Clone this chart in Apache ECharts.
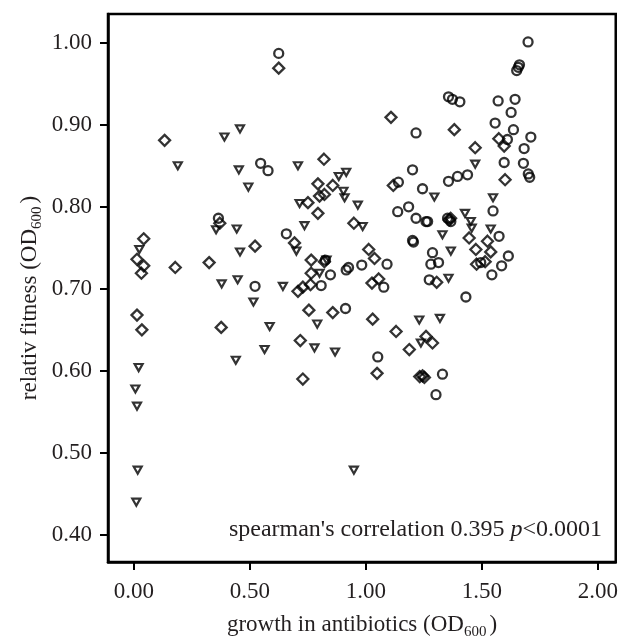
<!DOCTYPE html>
<html>
<head>
<meta charset="utf-8">
<script src="https://cdn.jsdelivr.net/npm/echarts@6/dist/echarts.min.js"></script>
<style>
html,body{margin:0;padding:0;background:#fff;}
#chart{width:621px;height:636px;}
</style>
</head>
<body>
<div id="chart"></div>
<script>
// ---- data (growth in antibiotics OD600, relative fitness) ----
var circles = [
[0.546,0.853],[0.578,0.844],[0.364,0.786],[0.522,0.703],[0.624,0.987],[1.216,0.890],[1.201,0.845],
[1.140,0.830],[1.244,0.822],[0.657,0.767],[0.847,0.717],[0.915,0.723],[0.925,0.726],[0.982,0.729],
[1.091,0.730],[1.077,0.702],[0.807,0.704],[0.912,0.676],[1.051,0.617],[1.201,0.759],[1.205,0.757],
[1.137,0.794],[1.184,0.800],[1.216,0.786],[1.259,0.782],[1.699,1.001],[1.650,0.966],[1.657,0.970],
[1.662,0.973],[1.356,0.934],[1.373,0.931],[1.405,0.928],[1.570,0.929],[1.643,0.931],[1.626,0.915],
[1.557,0.902],[1.636,0.894],[1.711,0.885],[1.610,0.882],[1.682,0.871],[1.596,0.854],[1.679,0.853],
[1.700,0.840],[1.706,0.836],[1.356,0.831],[1.395,0.837],[1.438,0.839],[1.548,0.795],[1.266,0.782],
[1.352,0.786],[1.366,0.782],[1.574,0.764],[1.287,0.744],[1.614,0.740],[1.280,0.730],[1.313,0.732],
[1.495,0.732],[1.585,0.728],[1.543,0.717],[1.273,0.711],[1.431,0.690],[1.330,0.596],[1.302,0.571],
[0.825,0.735]
];
var diamonds = [
[0.132,0.881],[0.370,0.780],[0.042,0.761],[0.013,0.736],[0.042,0.728],[0.032,0.719],[0.178,0.726],
[0.324,0.732],[0.522,0.752],[0.013,0.668],[0.034,0.650],[0.376,0.653],[0.624,0.969],[1.108,0.909],
[0.819,0.858],[1.118,0.826],[0.793,0.828],[0.857,0.826],[0.821,0.815],[0.800,0.813],[0.750,0.805],
[0.793,0.792],[0.948,0.780],[0.692,0.756],[0.764,0.735],[0.821,0.733],[0.764,0.719],[1.012,0.748],
[1.037,0.737],[1.026,0.707],[1.055,0.712],[0.707,0.697],[0.728,0.702],[0.761,0.705],[0.754,0.674],
[0.857,0.671],[1.029,0.663],[0.717,0.637],[1.130,0.648],[1.187,0.626],[1.259,0.642],[1.287,0.634],
[0.728,0.590],[1.048,0.597],[1.232,0.593],[1.244,0.594],[1.252,0.592],[1.381,0.894],[1.573,0.883],
[1.596,0.874],[1.471,0.872],[1.600,0.833],[1.359,0.784],[1.445,0.762],[1.524,0.758],[1.474,0.748],
[1.538,0.745],[1.477,0.730],[1.514,0.733],[1.305,0.708],[1.365,0.786]
];
var triangles = [
[0.189,0.850],[0.390,0.885],[0.457,0.895],[0.452,0.845],[0.493,0.824],[0.354,0.772],[0.443,0.773],
[0.023,0.748],[0.457,0.745],[0.378,0.706],[0.447,0.711],[0.515,0.684],[0.020,0.604],[0.439,0.613],
[0.006,0.578],[0.013,0.557],[0.016,0.479],[0.010,0.440],[0.707,0.850],[0.883,0.837],[0.915,0.842],
[0.903,0.819],[0.908,0.811],[0.714,0.804],[0.965,0.802],[0.986,0.776],[0.735,0.777],[0.700,0.746],
[0.800,0.719],[0.642,0.703],[0.585,0.654],[0.790,0.657],[0.778,0.628],[0.867,0.623],[0.563,0.626],
[1.230,0.662],[1.237,0.634],[0.948,0.479],[1.471,0.852],[1.295,0.812],[1.548,0.811],[1.427,0.792],
[1.452,0.782],[1.456,0.774],[1.538,0.773],[1.330,0.766],[1.366,0.746],[1.356,0.713],[1.319,0.664],
[0.830,0.735]
];
var xTicks = [0, 0.5, 1.0, 1.5, 2.0];
var yTicks = [0.4, 0.5, 0.6, 0.7, 0.8, 0.9, 1.0];
var xTitle = 'growth in antibiotics (OD';
var yTitle = 'relativ fitness (OD';
var subText = '600';
var noteText = "spearman's correlation 0.395 ";

var FONT = '"Liberation Serif", "Times New Roman", serif';
var INK = '#231f20';

var chart = echarts.init(document.getElementById('chart'), null, {renderer:'canvas'});
chart.setOption({
  animation:false,
  backgroundColor:'#fff',
  grid:{left:108, top:14, right:4, bottom:74, show:true, borderColor:'#000', borderWidth:2.5, containLabel:false},
  xAxis:{
    type:'value', min:-0.112, max:2.077,
    axisLine:{show:true, onZero:false, lineStyle:{color:'#000', width:2.5}},
    axisTick:{show:true, length:8, inside:false, customValues:xTicks, lineStyle:{color:'#000', width:2}},
    axisLabel:{customValues:xTicks, margin:18, fontFamily:FONT, fontSize:23, color:INK,
      formatter:function(v){return v.toFixed(2);}},
    splitLine:{show:false}
  },
  yAxis:{
    type:'value', min:0.367, max:1.035,
    axisLine:{show:true, onZero:false, lineStyle:{color:'#000', width:2.5}},
    axisTick:{show:true, length:8, inside:false, customValues:yTicks, lineStyle:{color:'#000', width:2}},
    axisLabel:{customValues:yTicks, margin:16, fontFamily:FONT, fontSize:23, color:INK,
      formatter:function(v){return v.toFixed(2);}},
    splitLine:{show:false}
  },
  series:[
    {type:'scatter', data:circles, symbol:'circle', symbolSize:9,
     itemStyle:{color:'transparent', borderColor:'#000', borderWidth:2.3}},
    {type:'scatter', data:diamonds, symbol:'diamond', symbolSize:11,
     itemStyle:{color:'transparent', borderColor:'#000', borderWidth:2.3}},
    {type:'scatter', data:triangles, symbol:'triangle', symbolRotate:180, symbolSize:[8,7],
     itemStyle:{color:'transparent', borderColor:'#000', borderWidth:2.2}}
  ],
  graphic:[
    {type:'text', x:362, y:625, style:{
      text:'{a|'+xTitle+'}{s|'+subText+'}{a|)}',
      align:'center', verticalAlign:'middle',
      rich:{a:{fontFamily:FONT, fontSize:23, fill:INK, lineHeight:30, verticalAlign:'middle'},
            s:{fontFamily:FONT, fontSize:15, fill:INK, lineHeight:30, verticalAlign:'bottom', padding:[0,3,0,0]}}
    }},
    {type:'text', x:30, y:298, rotation:Math.PI/2, style:{
      text:'{a|'+yTitle+'}{s|'+subText+'}{a|)}',
      align:'center', verticalAlign:'middle',
      rich:{a:{fontFamily:FONT, fontSize:23, fill:INK, lineHeight:30, verticalAlign:'middle'},
            s:{fontFamily:FONT, fontSize:15, fill:INK, lineHeight:30, verticalAlign:'bottom', padding:[0,3,0,0]}}
    }},
    {type:'text', x:602, y:530, style:{
      text:'{a|'+noteText+'}{i|p}{a|<0.0001}',
      align:'right', verticalAlign:'middle',
      rich:{a:{fontFamily:FONT, fontSize:24, fill:INK}, i:{fontFamily:FONT, fontSize:24, fontStyle:'italic', fill:INK}}
    }}
  ]
});
</script>
</body>
</html>
